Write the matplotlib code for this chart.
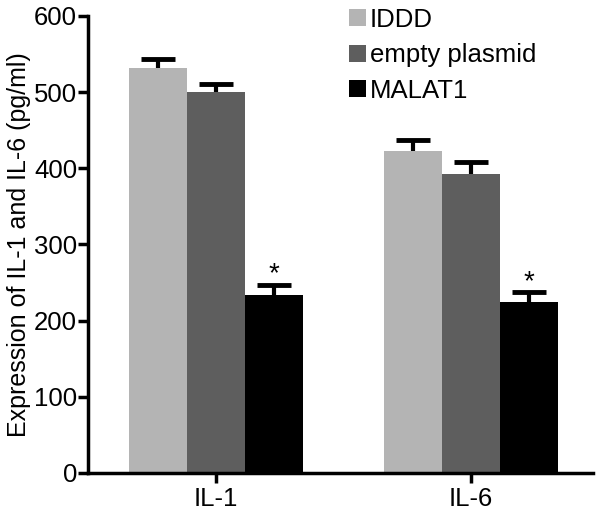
import matplotlib.pyplot as plt
from matplotlib.patches import Patch

plt.rcParams['font.family'] = ['Liberation Sans', 'DejaVu Sans']

# Data
groups = ['IL-1', 'IL-6']
series = ['IDDD', 'empty plasmid', 'MALAT1']
values = {
    'IDDD': [532, 423],
    'empty plasmid': [500, 393],
    'MALAT1': [234, 224],
}
errors = {
    'IDDD': [12, 14],
    'empty plasmid': [10, 15],
    'MALAT1': [13, 13],
}
significant = {'MALAT1': [True, True]}
colors = ['#b4b4b4', '#5e5e5e', '#000000']

fig = plt.figure(figsize=(6, 5.13), dpi=100)
ax = fig.add_axes([0.147, 0.078, 0.841, 0.891])

group_x = [0, 4.4]
width = 1.0
cap = 0.29
for i, name in enumerate(series):
    xs = [g + (i - 1) * width for g in group_x]
    ax.bar(xs, values[name], width=width, color=colors[i], edgecolor='none', zorder=2)
    tops = [v + e for v, e in zip(values[name], errors[name])]
    # upper-only error bars
    ax.vlines(xs, values[name], tops, color='black', linewidth=3, zorder=3)
    ax.hlines(tops, [x - cap for x in xs], [x + cap for x in xs],
              color='black', linewidth=3.5, zorder=3)
    if name in significant:
        for x, t, s in zip(xs, tops, significant[name]):
            if s:
                ax.annotate('*', (x, t), xytext=(0, -2), textcoords='offset points',
                            ha='center', va='bottom', fontsize=20)

ax.set_xlim(-2.2, 6.5)
ax.set_ylim(0, 600)
ax.set_yticks(range(0, 601, 100))
ax.set_xticks(group_x)
ax.set_xticklabels(groups)
ax.tick_params(axis='both', labelsize=18.5, width=2.5, length=7, color='black')
ax.tick_params(axis='x', pad=3)
ax.tick_params(axis='y', pad=1)
for side in ['top', 'right']:
    ax.spines[side].set_visible(False)
for side in ['left', 'bottom']:
    ax.spines[side].set_linewidth(2.5)
ax.set_ylabel('Expression of IL-1 and IL-6 (pg/ml)', fontsize=18, labelpad=2)

handles = [Patch(facecolor=c, edgecolor='none') for c in colors]
fig.legend(handles, series, loc='upper left', bbox_to_anchor=(0.552, 1.02),
           frameon=False, fontsize=18.5, handlelength=0.65, handleheight=0.65,
           handletextpad=0.15, labelspacing=0.45, borderpad=0.2)

fig.savefig('out.png', dpi=100)
